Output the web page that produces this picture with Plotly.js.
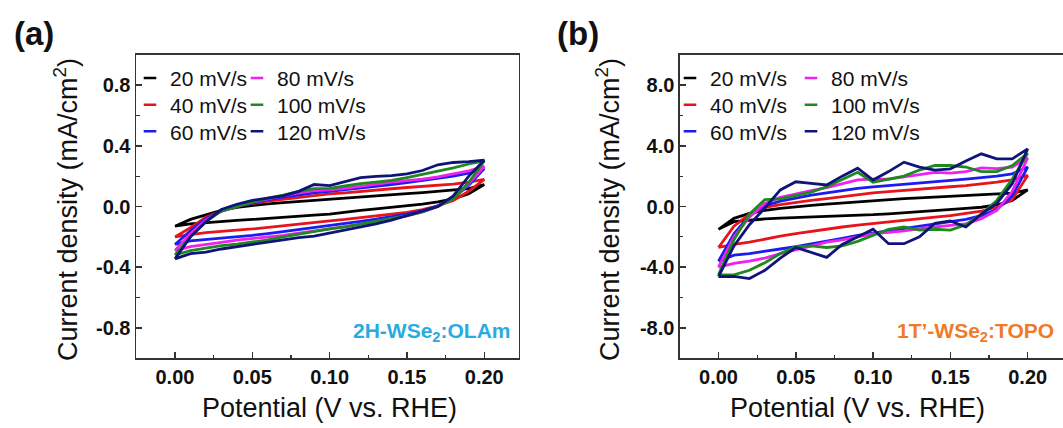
<!DOCTYPE html>
<html><head><meta charset="utf-8">
<script src="https://cdn.plot.ly/plotly-3.0.1.min.js"></script>
<style>html,body{margin:0;padding:0;background:#fff}#chart{width:1063px;height:428px}</style>
</head><body><div id="chart"></div>
<script>
// ---------- data ----------
const potential = [0.00,0.01,0.02,0.03,0.04,0.05,0.06,0.07,0.08,0.09,0.10,0.11,0.12,0.13,0.14,0.15,0.16,0.17,0.18,0.19,0.20];
const scanRates = ['20 mV/s','40 mV/s','60 mV/s','80 mV/s','100 mV/s','120 mV/s'];
const seriesColors = ['#000000','#e8141c','#1c1cf0','#ee22ee','#1e8a1e','#10147a'];

// panel (a) 2H-WSe2:OLAm  (mA/cm2) ; forward = anodic (upper) branch, reverse = cathodic (lower) branch, both listed by ascending potential
const a20Fwd  = [-0.13,-0.085,-0.055,-0.025,-0.005,0.008,0.018,0.026,0.034,0.042,0.05,0.056,0.063,0.07,0.078,0.085,0.092,0.1,0.107,0.118,0.145];
const a20Rev  = [-0.13,-0.115,-0.108,-0.1,-0.092,-0.085,-0.078,-0.07,-0.063,-0.057,-0.05,-0.038,-0.026,-0.016,-0.006,0.004,0.016,0.03,0.05,0.085,0.145];
const a40Fwd  = [-0.2,-0.14,-0.07,-0.03,0.0,0.02,0.035,0.048,0.06,0.072,0.083,0.09,0.1,0.108,0.117,0.125,0.132,0.14,0.148,0.16,0.178];
const a40Rev  = [-0.2,-0.185,-0.172,-0.163,-0.155,-0.148,-0.138,-0.128,-0.118,-0.105,-0.094,-0.085,-0.075,-0.064,-0.05,-0.038,-0.02,0.005,0.04,0.1,0.178];
const a60Fwd  = [-0.25,-0.16,-0.08,-0.03,0.0,0.025,0.045,0.062,0.078,0.09,0.1,0.11,0.12,0.132,0.145,0.158,0.172,0.186,0.2,0.22,0.25];
const a60Rev  = [-0.25,-0.226,-0.218,-0.21,-0.2,-0.19,-0.178,-0.165,-0.153,-0.14,-0.125,-0.112,-0.098,-0.084,-0.068,-0.05,-0.028,0.005,0.055,0.14,0.25];
const a80Fwd  = [-0.29,-0.18,-0.09,-0.03,0.0,0.03,0.05,0.07,0.09,0.105,0.11,0.12,0.135,0.148,0.16,0.17,0.18,0.195,0.215,0.235,0.265];
const a80Rev  = [-0.29,-0.264,-0.25,-0.236,-0.222,-0.21,-0.2,-0.19,-0.175,-0.16,-0.148,-0.133,-0.117,-0.1,-0.082,-0.062,-0.035,0.0,0.055,0.15,0.265];
const a100Fwd = [-0.32,-0.2,-0.1,-0.03,0.0,0.03,0.055,0.075,0.1,0.118,0.12,0.135,0.15,0.16,0.172,0.19,0.21,0.235,0.255,0.28,0.3];
const a100Rev = [-0.32,-0.29,-0.275,-0.258,-0.248,-0.235,-0.22,-0.2,-0.18,-0.165,-0.148,-0.135,-0.12,-0.1,-0.08,-0.06,-0.035,0.0,0.05,0.16,0.3];
const a120Fwd = [-0.345,-0.2,-0.1,-0.02,0.015,0.04,0.055,0.07,0.1,0.145,0.138,0.165,0.19,0.198,0.204,0.215,0.237,0.275,0.29,0.295,0.305];
const a120Rev = [-0.345,-0.31,-0.3,-0.28,-0.265,-0.25,-0.235,-0.22,-0.205,-0.195,-0.172,-0.155,-0.135,-0.115,-0.09,-0.065,-0.03,0.0,0.07,0.2,0.305];

// panel (b) 1T'-WSe2:TOPO (mA/cm2)
const b20Fwd  = [-1.5,-0.78,-0.45,-0.25,-0.12,0.0,0.08,0.16,0.24,0.32,0.4,0.46,0.52,0.57,0.62,0.68,0.72,0.76,0.8,0.88,1.1];
const b20Rev  = [-1.5,-1.0,-0.9,-0.82,-0.76,-0.7,-0.66,-0.63,-0.6,-0.57,-0.54,-0.48,-0.42,-0.35,-0.27,-0.2,-0.12,-0.05,0.1,0.4,1.1];
const b40Fwd  = [-2.7,-1.3,-0.5,-0.05,0.12,0.28,0.4,0.52,0.65,0.78,0.9,0.98,1.05,1.12,1.2,1.3,1.38,1.48,1.6,1.75,2.05];
const b40Rev  = [-2.7,-2.5,-2.35,-2.15,-1.95,-1.78,-1.62,-1.48,-1.35,-1.22,-1.1,-1.0,-0.9,-0.8,-0.7,-0.6,-0.45,-0.3,-0.05,0.45,2.05];
const b60Fwd  = [-3.6,-1.8,-0.6,0.05,0.35,0.55,0.75,0.9,1.05,1.2,1.3,1.38,1.45,1.52,1.6,1.7,1.8,1.9,2.0,2.15,2.6];
const b60Rev  = [-3.6,-3.2,-3.1,-2.95,-2.8,-2.65,-2.5,-2.3,-2.1,-1.9,-1.75,-1.6,-1.45,-1.3,-1.15,-1.0,-0.85,-0.6,-0.2,0.7,2.6];
const b80Fwd  = [-4.0,-2.0,-0.7,0.2,0.6,0.85,1.05,1.25,1.5,1.75,1.8,1.8,1.95,2.1,2.25,2.2,2.3,2.55,2.5,2.6,3.2];
const b80Rev  = [-4.0,-3.75,-3.6,-3.4,-3.1,-2.8,-2.6,-2.35,-2.2,-2.0,-1.8,-1.7,-1.6,-1.45,-1.35,-1.25,-1.15,-0.8,-0.25,1.0,3.2];
const b100Fwd = [-4.5,-2.2,-0.5,0.45,0.5,0.75,0.95,1.3,1.75,2.25,1.6,1.8,2.0,2.4,2.7,2.7,2.6,2.3,2.3,2.7,3.5];
const b100Rev = [-4.5,-4.5,-4.2,-3.7,-3.1,-2.65,-2.6,-2.7,-2.6,-2.3,-1.9,-1.5,-1.35,-1.55,-1.5,-1.55,-1.2,-0.5,0.4,1.8,3.5];
const b120Fwd = [-4.62,-2.6,-1.2,-0.1,1.09,1.63,1.53,1.42,2.0,2.52,1.74,2.3,2.92,2.6,2.4,2.48,3.0,3.47,3.14,3.14,3.8];
const b120Rev = [-4.62,-4.6,-4.75,-4.2,-3.4,-2.7,-3.0,-3.35,-2.5,-2.0,-1.5,-2.45,-2.45,-2.0,-1.1,-0.95,-1.35,-0.5,0.2,1.5,3.8];

const xTickVals = [0,0.05,0.10,0.15,0.20];
const xTickText = ['0.00','0.05','0.10','0.15','0.20'];
const yTickValsA = [-0.8,-0.4,0,0.4,0.8];
const yTickTextA = ['-0.8','-0.4','0.0','0.4','0.8'];
const yTickValsB = [-8,-4,0,4,8];
const yTickTextB = ['-8.0','-4.0','0.0','4.0','8.0'];
const panelLabels = ['(a)','(b)'];
const sampleNames = ['2H-WSe<sub>2</sub>:OLAm','1T\u2019-WSe<sub>2</sub>:TOPO'];
const sampleColors = ['#29abe2','#f07a28'];
const xTitle = 'Potential (V vs. RHE)';
const yTitle = 'Current density (mA/cm<sup>2</sup>)';

// ---------- build ----------
const panelA = [[a20Fwd,a20Rev],[a40Fwd,a40Rev],[a60Fwd,a60Rev],[a80Fwd,a80Rev],[a100Fwd,a100Rev],[a120Fwd,a120Rev]];
const panelB = [[b20Fwd,b20Rev],[b40Fwd,b40Rev],[b60Fwd,b60Rev],[b80Fwd,b80Rev],[b100Fwd,b100Rev],[b120Fwd,b120Rev]];
const potDown = potential.slice().reverse();

const W = 1063, H = 428;
const px = v => v / W, py = v => 1 - v / H;
const FONT = 'Liberation Sans, Arial, sans-serif';

const traces = [];
[[panelA,'x','y'],[panelB,'x2','y2']].forEach(([panel, xa, ya]) => {
  panel.forEach((br, i) => {
    traces.push({
      x: potential.concat(potDown), y: br[0].concat(br[1].slice().reverse()),
      xaxis: xa, yaxis: ya, mode: 'lines', showlegend: false, hoverinfo: 'skip',
      line: {color: seriesColors[i], width: 2.8}
    });
  });
});

// legends: 2 columns x 3 rows per panel
const colTextX = [[170, 277], [710, 831]];
const rowY = [78.3, 105, 131.7];
const layoutLegends = {};
let li = 0;
[['x','y'],['x2','y2']].forEach(([xa, ya], p) => {
  scanRates.forEach((name, i) => {
    li++;
    const key = li === 1 ? 'legend' : 'legend' + li;
    const col = i < 3 ? 0 : 1, row = i % 3;
    traces.push({
      x: [null], y: [null], xaxis: xa, yaxis: ya, mode: 'markers', name: name,
      legend: key, showlegend: true, hoverinfo: 'skip',
      marker: {symbol: 'line-ew', size: 9, color: seriesColors[i], line: {color: seriesColors[i], width: 2.5}}
    });
    layoutLegends[key] = {
      x: px(colTextX[p][col] - 40), y: py(rowY[row]), xanchor: 'left', yanchor: 'middle',
      bgcolor: 'rgba(0,0,0,0)', borderwidth: 0, font: {family: FONT, size: 21, color: '#111'},
      itemclick: false, itemdoubleclick: false
    };
  });
});

function xAxis(domain, range) {
  return {
    domain: domain, range: range, showline: true, linecolor: '#333', linewidth: 1.5, mirror: true,
    showgrid: false, zeroline: false, ticks: 'inside', ticklen: 6, tickwidth: 1.5, tickcolor: '#333',
    tickmode: 'array', tickvals: xTickVals, ticktext: xTickText,
    tickfont: {family: FONT, size: 20, color: '#111', weight: 'bold'},
    minor: {tickmode: 'linear', tick0: 0, dtick: 0.025, ticks: 'inside', ticklen: 3.5, tickwidth: 1.2, tickcolor: '#333', showgrid: false},
    automargin: false, fixedrange: true
  };
}
function yAxis(anchor, tv, tt, dminor, mirror) {
  return {
    anchor: anchor, domain: [py(358.3), py(54.7)], range: [tv[0] * 1.25, tv[4] * 1.25],
    showline: true, linecolor: '#333', linewidth: 1.5, mirror: mirror,
    showgrid: false, zeroline: false, ticks: 'inside', ticklen: 6, tickwidth: 1.5, tickcolor: '#333',
    tickmode: 'array', tickvals: tv, ticktext: tt,
    tickfont: {family: FONT, size: 20, color: '#111', weight: 'bold'},
    minor: {tickmode: 'linear', tick0: 0, dtick: dminor, ticks: 'inside', ticklen: 3.5, tickwidth: 1.2, tickcolor: '#333', showgrid: false},
    automargin: false, fixedrange: true
  };
}

function ann(text, x, y, size, color, xanchor, angle) {
  return {text: text, xref: 'paper', yref: 'paper', x: px(x), y: py(y), xanchor: xanchor, yanchor: 'middle',
          textangle: angle || 0, showarrow: false, font: {family: FONT, size: size, color: color}};
}

const layout = Object.assign({
  width: W, height: H, margin: {l: 0, r: 0, t: 0, b: 0},
  paper_bgcolor: '#fff', plot_bgcolor: 'rgba(0,0,0,0)',
  font: {family: FONT, color: '#111'},
  xaxis: Object.assign(xAxis([px(136), px(518.6)], [-0.0252, 0.2222]), {anchor: 'y'}),
  yaxis: yAxis('x', yTickValsA, yTickTextA, 0.2, true),
  xaxis2: Object.assign(xAxis([px(679.85), 1], [-0.025, (W - 718.5) / 1546]), {anchor: 'y2'}),
  yaxis2: yAxis('x2', yTickValsB, yTickTextB, 2, false),
  annotations: [
    ann('<b>' + panelLabels[0] + '</b>', 34, 34, 33, '#111', 'center'),
    ann('<b>' + panelLabels[1] + '</b>', 578, 34, 33, '#111', 'center'),
    ann('<b>' + sampleNames[0] + '</b>', 513, 332, 21, sampleColors[0], 'right'),
    ann('<b>' + sampleNames[1] + '</b>', 1056, 332, 21, sampleColors[1], 'right'),
    ann(yTitle, 66, 210, 27, '#111', 'center', -90),
    ann(yTitle, 608, 210, 27, '#111', 'center', -90),
    ann(xTitle, 329, 408, 27, '#111', 'center'),
    ann(xTitle, 857, 408, 27, '#111', 'center')
  ]
}, layoutLegends);

Plotly.newPlot('chart', traces, layout, {staticPlot: true, displayModeBar: false});
</script></body></html>
